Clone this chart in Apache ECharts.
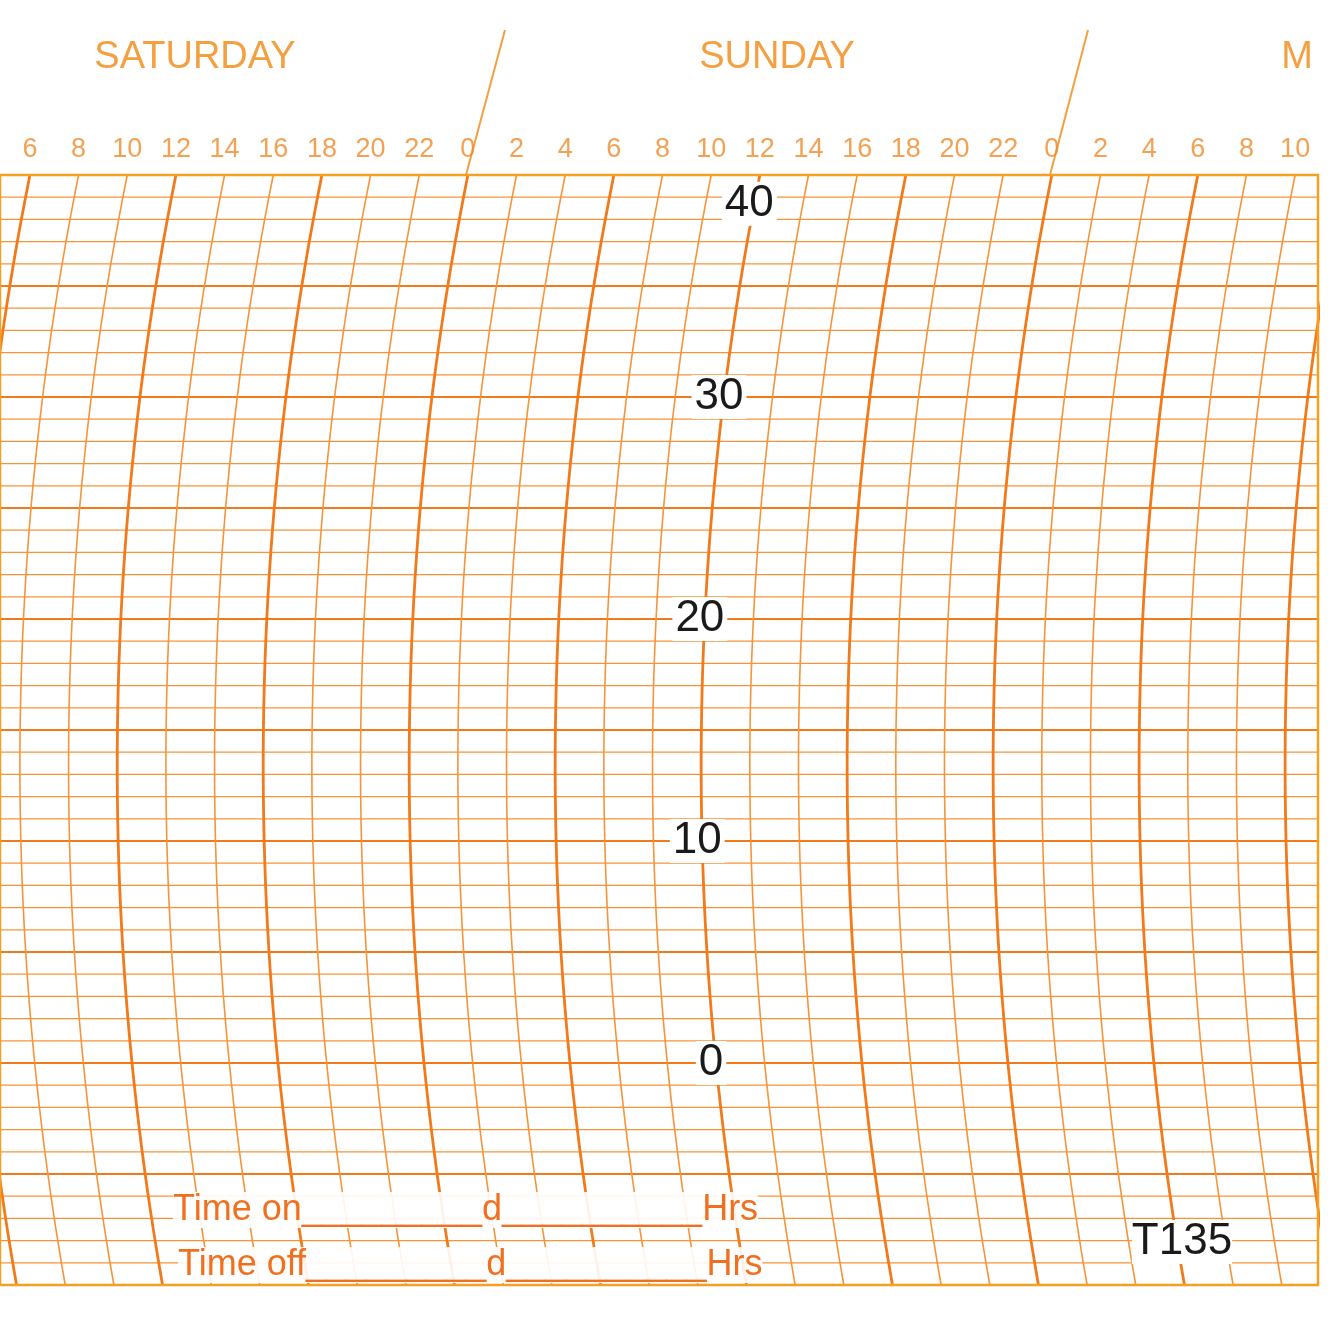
<!DOCTYPE html>
<html><head><meta charset="utf-8">
<script src="https://cdn.jsdelivr.net/npm/echarts@6/dist/echarts.min.js"></script>
<style>html,body{margin:0;background:#fff}#c{width:1342px;height:1342px}</style>
</head><body><div id="c"></div>
<script>
// 图纸刻度数据
const hourMin = 4.77, hourMax = 58.94;        // 周六0点起算的小时
const valueMin = -10, valueMax = 40;
const hourTicks = [6,8,10,12,14,16,18,20,22,24,26,28,30,32,34,36,38,40,42,44,46,48,50,52,54,56,58];
const valueLabels = [40, 30, 20, 10, 0];
const dayNames = ['SATURDAY', 'SUNDAY', 'M'];
const labelHour = 35.8;   // 中间刻度标签所在的弧线

const PX_H = 24.33, PX_V = 22.2, R = 3000, CV = 13.4;
// 记录笔弧线的水平偏移（小时）
function arcShift(v) {
  const d = (v - CV) * PX_V, d0 = (valueMax - CV) * PX_V;
  return -(Math.sqrt(R*R - d*d) - Math.sqrt(R*R - d0*d0)) / PX_H;
}
function arcLines(hours) {
  const out = [];
  hours.forEach(h => {
    for (let v = valueMax; v >= valueMin; v -= 1) out.push([h + arcShift(v), v]);
    out.push('-');
  });
  return out;
}
function hLines(vals) {
  const out = [];
  vals.forEach(v => { out.push([hourMin, v], [hourMax, v], '-'); });
  return out;
}
const thinHours = [], thickHours = [];
for (let h = 0; h <= 62; h += 2) (h % 6 === 0 ? thickHours : thinHours).push(h);
const thinVals = [], majorVals = [];
for (let v = valueMin; v <= valueMax; v++) (v % 5 === 0 ? majorVals : thinVals).push(v);

const C_THIN = '#f7943a', C_THICK = '#f27a1a';
function lineSeries(data, color, width) {
  return { type: 'line', data, symbol: 'none', silent: true, animation: false, clip: true,
    connectNulls: false, lineStyle: { color, width } };
}

const chart = echarts.init(document.getElementById('c'));
chart.setOption({
  backgroundColor: '#fff',
  animation: false,
  grid: { left: 0, right: 24, top: 175, bottom: 57 },
  xAxis: { type: 'value', min: hourMin, max: hourMax, position: 'top',
    axisLine: { show: false }, axisTick: { show: false },
    splitLine: { show: false }, axisLabel: { show: false } },
  yAxis: { type: 'value', min: valueMin, max: valueMax, show: false },
  series: [
    lineSeries(hLines(thinVals), C_THIN, 1.3),
    lineSeries(hLines(majorVals), C_THICK, 2.2),
    lineSeries(arcLines(thinHours), C_THIN, 1.6),
    lineSeries(arcLines(thickHours), C_THICK, 2.8),
    { type: 'scatter', symbolSize: 0, silent: true, animation: false,
      data: hourTicks.map(h => [h, valueMax, h % 24]),
      label: { show: true, position: 'top', distance: 12, formatter: p => p.data[2], color: '#f08a2a',
        fontSize: 27, fontFamily: 'Liberation Sans' } }
  ]
});

// 中间刻度数字（白底）
const gfx = [
  { type: 'rect', shape: { x: 0, y: 175, width: 1318, height: 1110 }, style: { fill: 'none', stroke: '#f5a020', lineWidth: 2.5 }, z: 50 },
  { type: 'line', shape: { x1: 505, y1: 30, x2: 466, y2: 175 }, style: { stroke: '#f5a040', lineWidth: 2 } },
  { type: 'line', shape: { x1: 1088, y1: 30, x2: 1050, y2: 175 }, style: { stroke: '#f5a040', lineWidth: 2 } }
];
dayNames.forEach((t, i) => gfx.push({ type: 'text', x: [195, 777, 1297][i], y: 58,
  style: { text: t, fill: '#f5a040', font: '500 38px Liberation Sans', align: 'center', verticalAlign: 'middle' } }));
valueLabels.forEach(v => {
  const vv = v === 40 ? 38.7 : v;
  const p = chart.convertToPixel({ gridIndex: 0 }, [labelHour + arcShift(vv), vv]);
  gfx.push({ type: 'text', x: p[0], y: p[1], z: 100,
    style: { text: String(v), fill: '#1a1a1a', font: '44px Liberation Sans', align: 'center', verticalAlign: 'middle',
      backgroundColor: '#fff', padding: [0, 3] } });
});
gfx.push(
  { type: 'text', x: 173, y: 1210, z: 100, style: { text: 'Time on_________d__________Hrs', fill: '#f07020', font: '36px Liberation Sans', verticalAlign: 'middle', backgroundColor: 'rgba(255,255,255,0.9)' } },
  { type: 'text', x: 178, y: 1265, z: 100, style: { text: 'Time off_________d__________Hrs', fill: '#f07020', font: '36px Liberation Sans', verticalAlign: 'middle', backgroundColor: 'rgba(255,255,255,0.9)' } },
  { type: 'text', x: 1182, y: 1242, z: 100, style: { text: 'T135', fill: '#1a1a1a', font: '44px Liberation Sans', align: 'center', verticalAlign: 'middle', backgroundColor: '#fff' } }
);
chart.setOption({ graphic: gfx });
</script></body></html>
